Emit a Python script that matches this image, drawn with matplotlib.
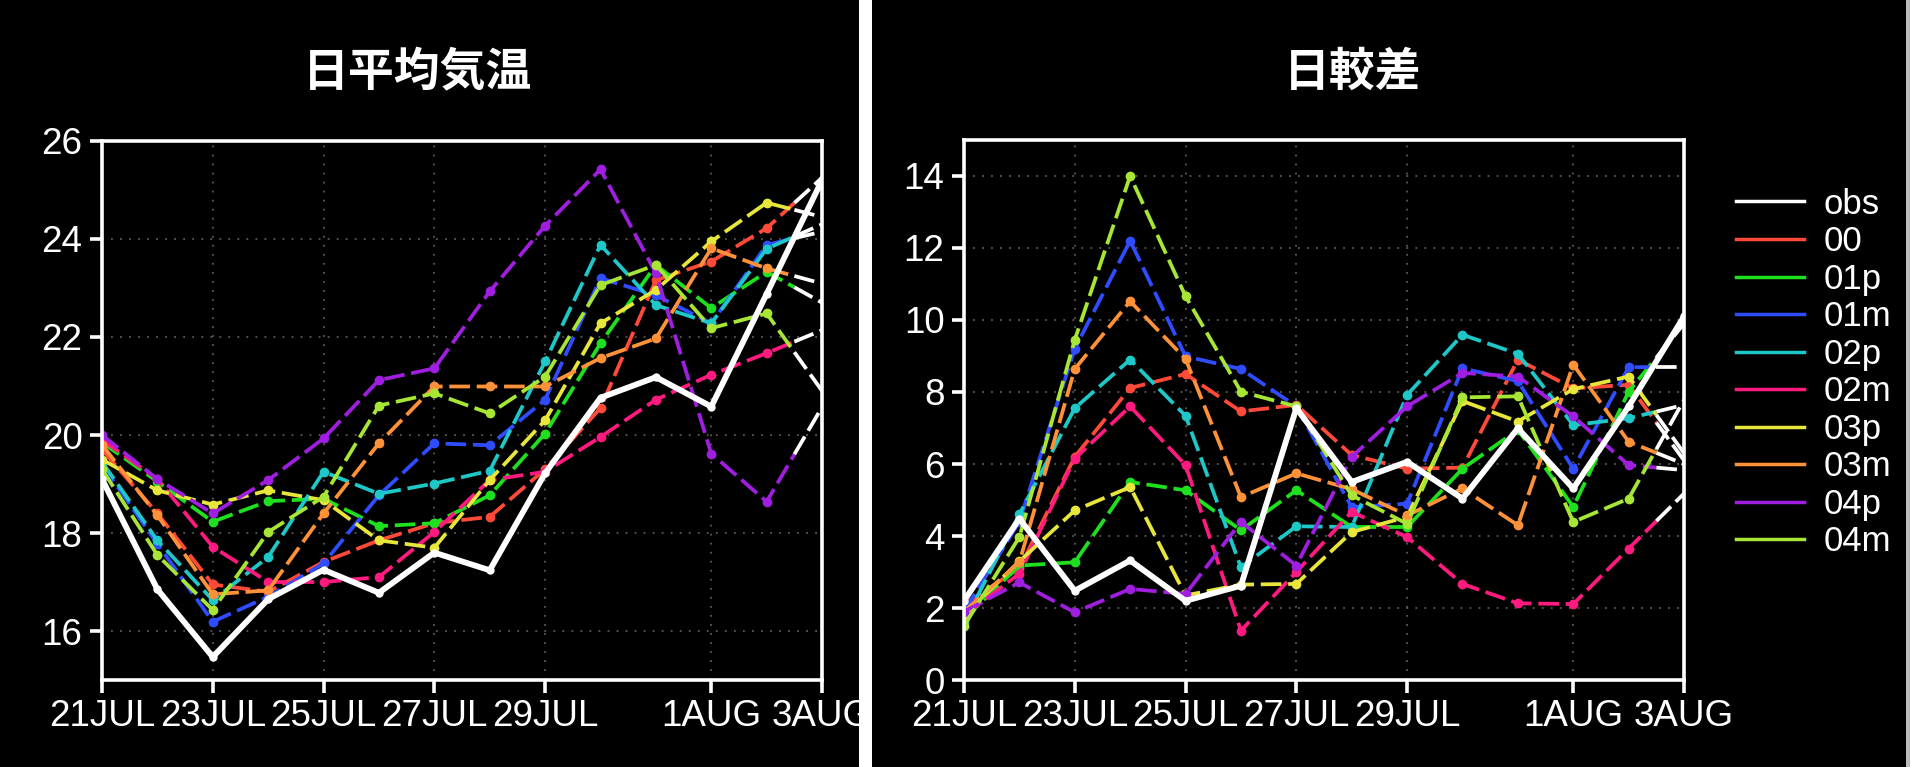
import numpy as np
import matplotlib
matplotlib.use('Agg')
import matplotlib.pyplot as plt
from matplotlib.lines import Line2D
from matplotlib.patches import Rectangle

plt.rcParams['font.family'] = ['Liberation Sans', 'DejaVu Sans']

# days since 21JUL
days = np.arange(14)
tick_days = [0, 2, 4, 6, 8, 11, 13]
tick_labels = ['21JUL', '23JUL', '25JUL', '27JUL', '29JUL', '1AUG', '3AUG']

members = ['00', '01p', '01m', '02p', '02m', '03p', '03m', '04p', '04m']
colors = ['#ff4a3a', '#1fe01f', '#2f4dff', '#1ec8c8', '#ff1a80',
          '#e8e63a', '#ff9238', '#a01ee0', '#a8e635']

# 日平均気温
tmean_obs = [19.1, 16.85, 15.47, 16.65, 17.25, 16.78, 17.6, 17.24, 19.22, 20.76, 21.18, 20.58, 22.88, 25.2]
tmean = {
    '00':  [19.7, 18.4, 16.95, 16.8, 17.41, 17.85, 18.2, 18.33, 19.3, 20.55, 23.16, 23.54, 24.22, 25.25],
    '01p': [19.85, 19.05, 18.23, 18.65, 18.7, 18.14, 18.2, 18.77, 20.03, 21.87, 23.47, 22.59, 23.33, 22.7],
    '01m': [19.4, 17.78, 16.19, 16.7, 17.38, 18.77, 19.83, 19.79, 20.72, 23.2, 22.85, 22.28, 23.88, 24.15],
    '02p': [19.45, 17.85, 16.63, 17.51, 19.25, 18.8, 19.01, 19.27, 21.5, 23.88, 22.65, 22.28, 23.8, 24.3],
    '02m': [19.9, 19.1, 17.72, 17.0, 17.0, 17.1, 18.02, 19.08, 19.25, 19.96, 20.72, 21.23, 21.67, 22.14],
    '03p': [19.5, 18.87, 18.58, 18.87, 18.67, 17.85, 17.7, 19.08, 20.3, 22.28, 22.96, 23.95, 24.74, 24.45],
    '03m': [19.8, 18.36, 16.75, 16.83, 18.4, 19.83, 20.99, 20.99, 20.99, 21.57, 21.97, 23.81, 23.4, 23.09],
    '04p': [20.0, 19.1, 18.4, 19.08, 19.93, 21.12, 21.36, 22.93, 24.27, 25.42, 23.3, 19.62, 18.64, 20.57],
    '04m': [19.3, 17.55, 16.43, 18.02, 18.74, 20.6, 20.85, 20.44, 21.19, 23.06, 23.47, 22.18, 22.48, 20.9],
}

# 日較差
trange_obs = [2.2, 4.48, 2.48, 3.32, 2.2, 2.62, 7.55, 5.5, 6.06, 5.04, 6.99, 5.32, 7.6, 10.1]
trange = {
    '00':  [2.1, 3.1, 6.2, 8.11, 8.5, 7.46, 7.64, 6.25, 5.87, 5.9, 8.9, 8.1, 8.2, 6.1],
    '01p': [1.7, 3.18, 3.27, 5.5, 5.27, 4.16, 5.27, 4.25, 4.25, 5.87, 6.95, 4.81, 8.01, 9.9],
    '01m': [1.9, 4.4, 9.2, 12.2, 8.99, 8.64, 7.6, 4.8, 4.9, 8.66, 8.3, 5.87, 8.69, 8.69],
    '02p': [1.6, 4.6, 7.55, 8.9, 7.34, 3.13, 4.27, 4.25, 7.92, 9.59, 9.06, 7.08, 7.27, 7.64],
    '02m': [1.8, 2.95, 6.15, 7.6, 5.97, 1.37, 3.0, 4.67, 3.97, 2.67, 2.13, 2.11, 3.65, 5.18],
    '03p': [1.8, 3.3, 4.71, 5.36, 2.35, 2.65, 2.67, 4.11, 4.53, 7.75, 7.18, 8.08, 8.43, 6.3],
    '03m': [1.9, 3.27, 8.64, 10.52, 8.92, 5.08, 5.74, 5.3, 4.57, 5.32, 4.3, 8.76, 6.62, 6.0],
    '04p': [1.9, 2.71, 1.88, 2.53, 2.39, 4.39, 3.18, 6.2, 7.6, 8.53, 8.43, 7.32, 5.97, 5.83],
    '04m': [1.5, 3.97, 9.45, 14.0, 10.66, 8.01, 7.6, 5.13, 4.34, 7.85, 7.88, 4.39, 5.04, 7.78],
}

dash = (0, (5.5, 1.8))


def draw_panel(ax, obs, fc, ylim, yticks):
    ax.set_facecolor('black')
    for name, col in zip(members, colors):
        y = np.array(fc[name])
        xm = (days[-2] + days[-1]) / 2
        ym = (y[-2] + y[-1]) / 2
        ax.plot(list(days[:-1]) + [xm], list(y[:-1]) + [ym], color=col, lw=2.7,
                linestyle=dash, marker='o', markersize=6, markevery=list(range(13)))
        # last half segment comes out white
        ax.plot([xm, days[-1]], [ym, y[-1]], color='white', lw=2.7, linestyle=dash)
    ax.plot(days, obs, color='white', lw=4.2, marker='o', markersize=5, zorder=5)

    ax.set_xlim(0, 13)
    ax.set_ylim(*ylim)
    ax.set_xticks(tick_days)
    ax.set_xticklabels(tick_labels)
    ax.set_yticks(yticks)
    ax.grid(True, color='#5a5a5a', linestyle=(0, (1, 4)), lw=1.3)
    for s in ax.spines.values():
        s.set_color('white')
        s.set_linewidth(2.6)
    ax.tick_params(colors='white', labelcolor='white', labelsize=26.5,
                   length=9, width=2.6, pad=5)


fig = plt.figure(figsize=(19.1, 7.67), dpi=100, facecolor='black')

ax1 = fig.add_axes([0.0534, 0.1134, 0.377, 0.7028])
draw_panel(ax1, tmean_obs, tmean, (15, 26), range(16, 27, 2))

ax2 = fig.add_axes([0.5047, 0.1134, 0.377, 0.7041])
draw_panel(ax2, trange_obs, trange, (0, 15), range(0, 15, 2))

title_font = ['Noto Sans CJK JP', 'DejaVu Sans']
fig.text(0.2188, 0.905, '日平均気温', color='white', fontsize=33, fontweight='bold',
         family=title_font, ha='center', va='center')
fig.text(0.708, 0.905, '日較差', color='white', fontsize=33, fontweight='bold',
         family=title_font, ha='center', va='center')

# legend on the right panel
handles = [Line2D([], [], color='white', lw=2.5)]
handles += [Line2D([], [], color=c, lw=2.5) for c in colors]
fig.legend(handles, ['obs'] + members, loc='upper left',
           bbox_to_anchor=(0.900, 0.778), frameon=False, fontsize=25,
           labelcolor='white', handlelength=1.95, handletextpad=0.55,
           labelspacing=0.13, borderpad=0)

# white divider between the two panels
fig.patches.append(Rectangle((859 / 1910, 0), 13 / 1910, 1, transform=fig.transFigure,
                             facecolor='white', edgecolor='none', zorder=10))
fig.patches.append(Rectangle((1906 / 1910, 0), 4 / 1910, 1, transform=fig.transFigure,
                             facecolor='#bbbbbb', edgecolor='none', zorder=10))

fig.savefig('out.png', dpi=100, facecolor='black')
